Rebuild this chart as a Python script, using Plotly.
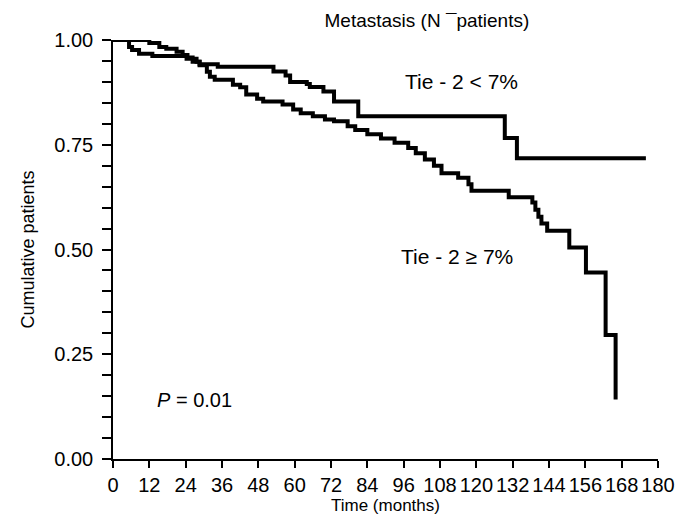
import plotly.graph_objects as go

# Tie-2 >= 7% group (event time in months, survival after event)
t_high = [0, 12, 15.3, 17.6, 21, 23, 24.6, 26.3, 28.6, 31, 32, 33.6, 39.6, 42, 44, 47.6, 49.6,
          56, 59.5, 62, 66, 70, 73, 77.5, 80, 84, 88.5, 93, 97.5, 100, 103, 106, 108.5,
          114, 117.4, 118.4, 130.7, 138.5, 139.5, 140.5, 141.5, 143.4, 150.7, 156.2, 162.7, 166, 166]
s_high = [1.0, 0.993, 0.983, 0.979, 0.972, 0.964, 0.958, 0.948, 0.94, 0.924, 0.912, 0.905, 0.893, 0.887, 0.87, 0.86, 0.853,
          0.846, 0.834, 0.825, 0.818, 0.81, 0.806, 0.794, 0.785, 0.775, 0.765, 0.755, 0.742, 0.73, 0.715, 0.7, 0.682,
          0.671, 0.656, 0.64, 0.625, 0.612, 0.595, 0.578, 0.562, 0.545, 0.505, 0.445, 0.296, 0.142, 0.142]

# Tie-2 < 7% group
t_low = [0, 5.3, 6.3, 8.6, 13, 24.3, 27.6, 28.6, 34.6, 53, 57, 58.5, 64, 65, 69.5, 73, 81, 129.4, 133.4, 176]
s_low = [1.0, 0.983, 0.976, 0.967, 0.962, 0.955, 0.948, 0.942, 0.936, 0.925, 0.915, 0.9, 0.895, 0.888, 0.877, 0.853, 0.818, 0.766, 0.718, 0.718]

x_ticks = list(range(0, 181, 12))
y_ticks = [0.0, 0.25, 0.5, 0.75, 1.0]

FONT = "Liberation Sans, Arial, sans-serif"

fig = go.Figure()
fig.add_trace(go.Scatter(x=t_high, y=s_high, mode="lines", line=dict(color="black", width=4, shape="hv"),
                         name="Tie - 2 ≥ 7%", showlegend=False))
fig.add_trace(go.Scatter(x=t_low, y=s_low, mode="lines", line=dict(color="black", width=4, shape="hv"),
                         name="Tie - 2 < 7%", showlegend=False))

fig.add_annotation(x=115.2, y=0.90, text="Tie - 2 < 7%", showarrow=False,
                   font=dict(size=21, color="black", family=FONT))
fig.add_annotation(x=113.5, y=0.483, text="Tie - 2 ≥ 7%", showarrow=False,
                   font=dict(size=21, color="black", family=FONT))
fig.add_annotation(x=14.0, y=0.14, text="<i>P</i> = 0.01", showarrow=False, xanchor="left",
                   font=dict(size=20, color="black", family=FONT))
fig.add_annotation(x=-0.156, xref="paper", y=0.5, yref="paper", xanchor="center", yanchor="middle",
                   text="Cumulative patients", textangle=-90, showarrow=False,
                   font=dict(size=18, color="black", family=FONT))
fig.add_annotation(x=0.5, xref="paper", y=-0.11, yref="paper", xanchor="center", yanchor="middle",
                   text="Time (months)", showarrow=False, font=dict(size=17, color="black", family=FONT))

fig.update_layout(
    width=690, height=525,
    margin=dict(l=105, r=40, t=32, b=74),
    paper_bgcolor="white", plot_bgcolor="white",
    font=dict(family=FONT, size=18, color="black"),
    title=dict(text="Metastasis (N \u00afpatients)", x=0.576, xref="paper", xanchor="center",
               y=0.977, yanchor="middle", font=dict(size=19, family=FONT, color="black")),
    xaxis=dict(range=[0, 180], tickvals=x_ticks, ticktext=[str(v) for v in x_ticks],
               showgrid=False, zeroline=False, showline=True, linecolor="black", linewidth=1.5,
               ticks="outside", ticklen=7, tickwidth=1.5, tickcolor="black",
               tickfont=dict(size=20, family=FONT)),
    yaxis=dict(range=[0, 1], tickvals=y_ticks, tickformat=".2f",
               showgrid=False, zeroline=False, showline=True, linecolor="black", linewidth=1.5,
               ticks="outside", ticklen=9, tickwidth=1.5, tickcolor="black", ticklabelstandoff=5,
               tickfont=dict(size=20, family=FONT),
               minor=dict(dtick=0.05, tick0=0, ticks="outside", ticklen=9, tickwidth=1.5, tickcolor="black", showgrid=False)),
)

fig.write_html("out.html")
